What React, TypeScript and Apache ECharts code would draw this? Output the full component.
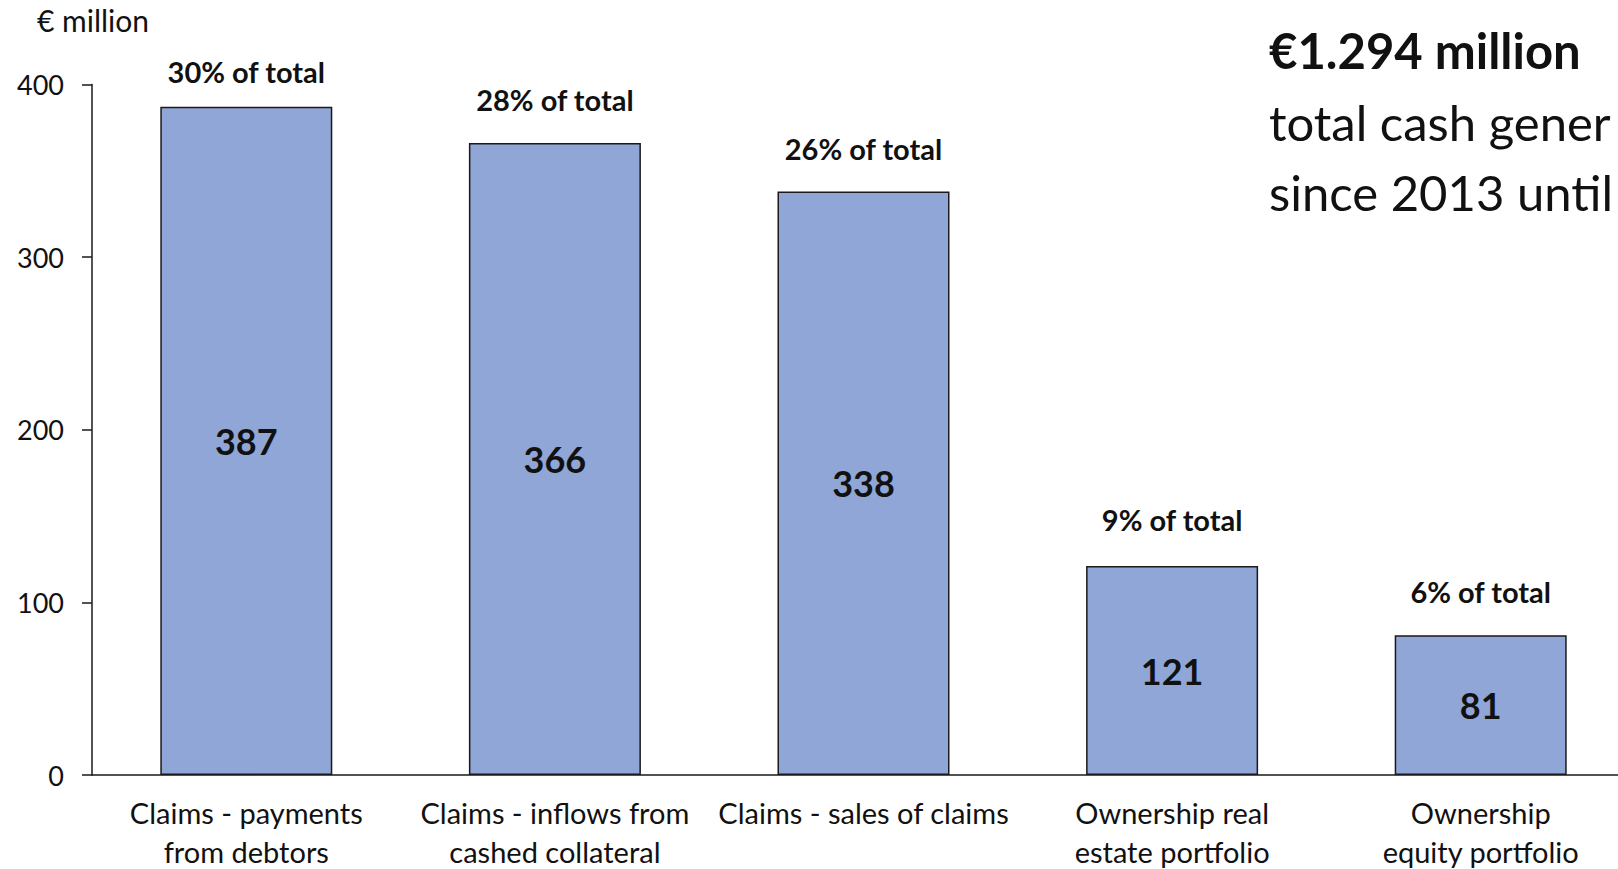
import React, { useEffect, useRef } from "react";
import * as echarts from "echarts";

const categories = [
  "Claims - payments\nfrom debtors",
  "Claims - inflows from\ncashed collateral",
  "Claims - sales of claims",
  "Ownership real\nestate portfolio",
  "Ownership\nequity portfolio",
];
const values = [387, 366, 338, 121, 81];
const shares = ["30% of total", "28% of total", "26% of total", "9% of total", "6% of total"];
const shareLabelGaps = [21, 29, 28, 32, 29];
const yTicks = [0, 100, 200, 300, 400];
const unitLabel = "€ million";
const headline = "€1.294 million";
const subLines = ["total cash gener", "since 2013 until"];

const FONT = "Lato, 'Open Sans', sans-serif";

export default function App() {
  const ref = useRef<HTMLDivElement>(null);
  useEffect(() => {
    if (!ref.current) return;
    const chart = echarts.init(ref.current, undefined, { renderer: "svg" });
    chart.setOption({
      animation: false,
      backgroundColor: "#ffffff",
      textStyle: { fontFamily: FONT },
      grid: {
        left: 92,
        top: 84.4,
        bottom: 94,
        width: 1543,
        containLabel: false,
        outerBoundsMode: "none",
      },
      xAxis: {
        type: "category",
        data: categories,
        axisLine: { show: true, lineStyle: { color: "#1a1a1a", width: 1.5 } },
        axisTick: { show: false },
        axisLabel: {
          interval: 0,
          margin: 18,
          color: "#111",
          fontSize: 29,
          lineHeight: 39,
          fontFamily: FONT,
          verticalAlign: "top",
        },
      },
      yAxis: {
        type: "value",
        min: yTicks[0],
        max: yTicks[yTicks.length - 1],
        interval: 100,
        splitLine: { show: false },
        axisLine: { show: true, lineStyle: { color: "#1a1a1a", width: 1.5 } },
        axisTick: { show: true, length: 10, lineStyle: { color: "#1a1a1a", width: 1.5 } },
        axisLabel: { margin: 28, color: "#111", fontSize: 27, fontFamily: FONT },
      },
      series: [
        {
          type: "bar",
          data: values,
          barWidth: 172,
          barGap: "-100%",
          itemStyle: { color: "#8FA6D6", borderColor: "#1a1a1a", borderWidth: 1.5 },
          label: {
            show: true,
            position: "inside",
            color: "#111",
            fontSize: 36,
            fontWeight: "bold",
            fontFamily: FONT,
          },
          z: 2,
        },
        {
          type: "bar",
          data: values.map((v, i) => ({
            value: v,
            label: { distance: shareLabelGaps[i] },
          })),
          barWidth: 172,
          barGap: "-100%",
          itemStyle: { color: "rgba(0,0,0,0)" },
          label: {
            show: true,
            position: "top",
            color: "#111",
            fontSize: 29,
            fontWeight: "bold",
            fontFamily: FONT,
            formatter: (p: any) => shares[p.dataIndex],
          },
          silent: true,
          z: 1,
        },
      ],
      graphic: [
        {
          type: "text",
          x: 37,
          y: 20,
          style: { text: unitLabel, fontSize: 30, fontFamily: FONT, fill: "#111", verticalAlign: "middle" },
        },
        {
          type: "text",
          x: 1269,
          y: 50,
          style: {
            text: headline,
            fontSize: 49,
            fontWeight: "bold",
            fontFamily: FONT,
            fill: "#111",
            verticalAlign: "middle",
          },
        },
        {
          type: "text",
          x: 1269,
          y: 121.5,
          style: { text: subLines[0], fontSize: 49, fontFamily: FONT, fill: "#111", verticalAlign: "middle" },
        },
        {
          type: "text",
          x: 1269,
          y: 191.5,
          style: { text: subLines[1], fontSize: 49, fontFamily: FONT, fill: "#111", verticalAlign: "middle" },
        },
      ],
    });
    return () => chart.dispose();
  }, []);
  return (
    <div
      ref={ref}
      style={{ position: "absolute", left: 0, top: 0, width: 1618, height: 869, background: "#fff" }}
    />
  );
}
